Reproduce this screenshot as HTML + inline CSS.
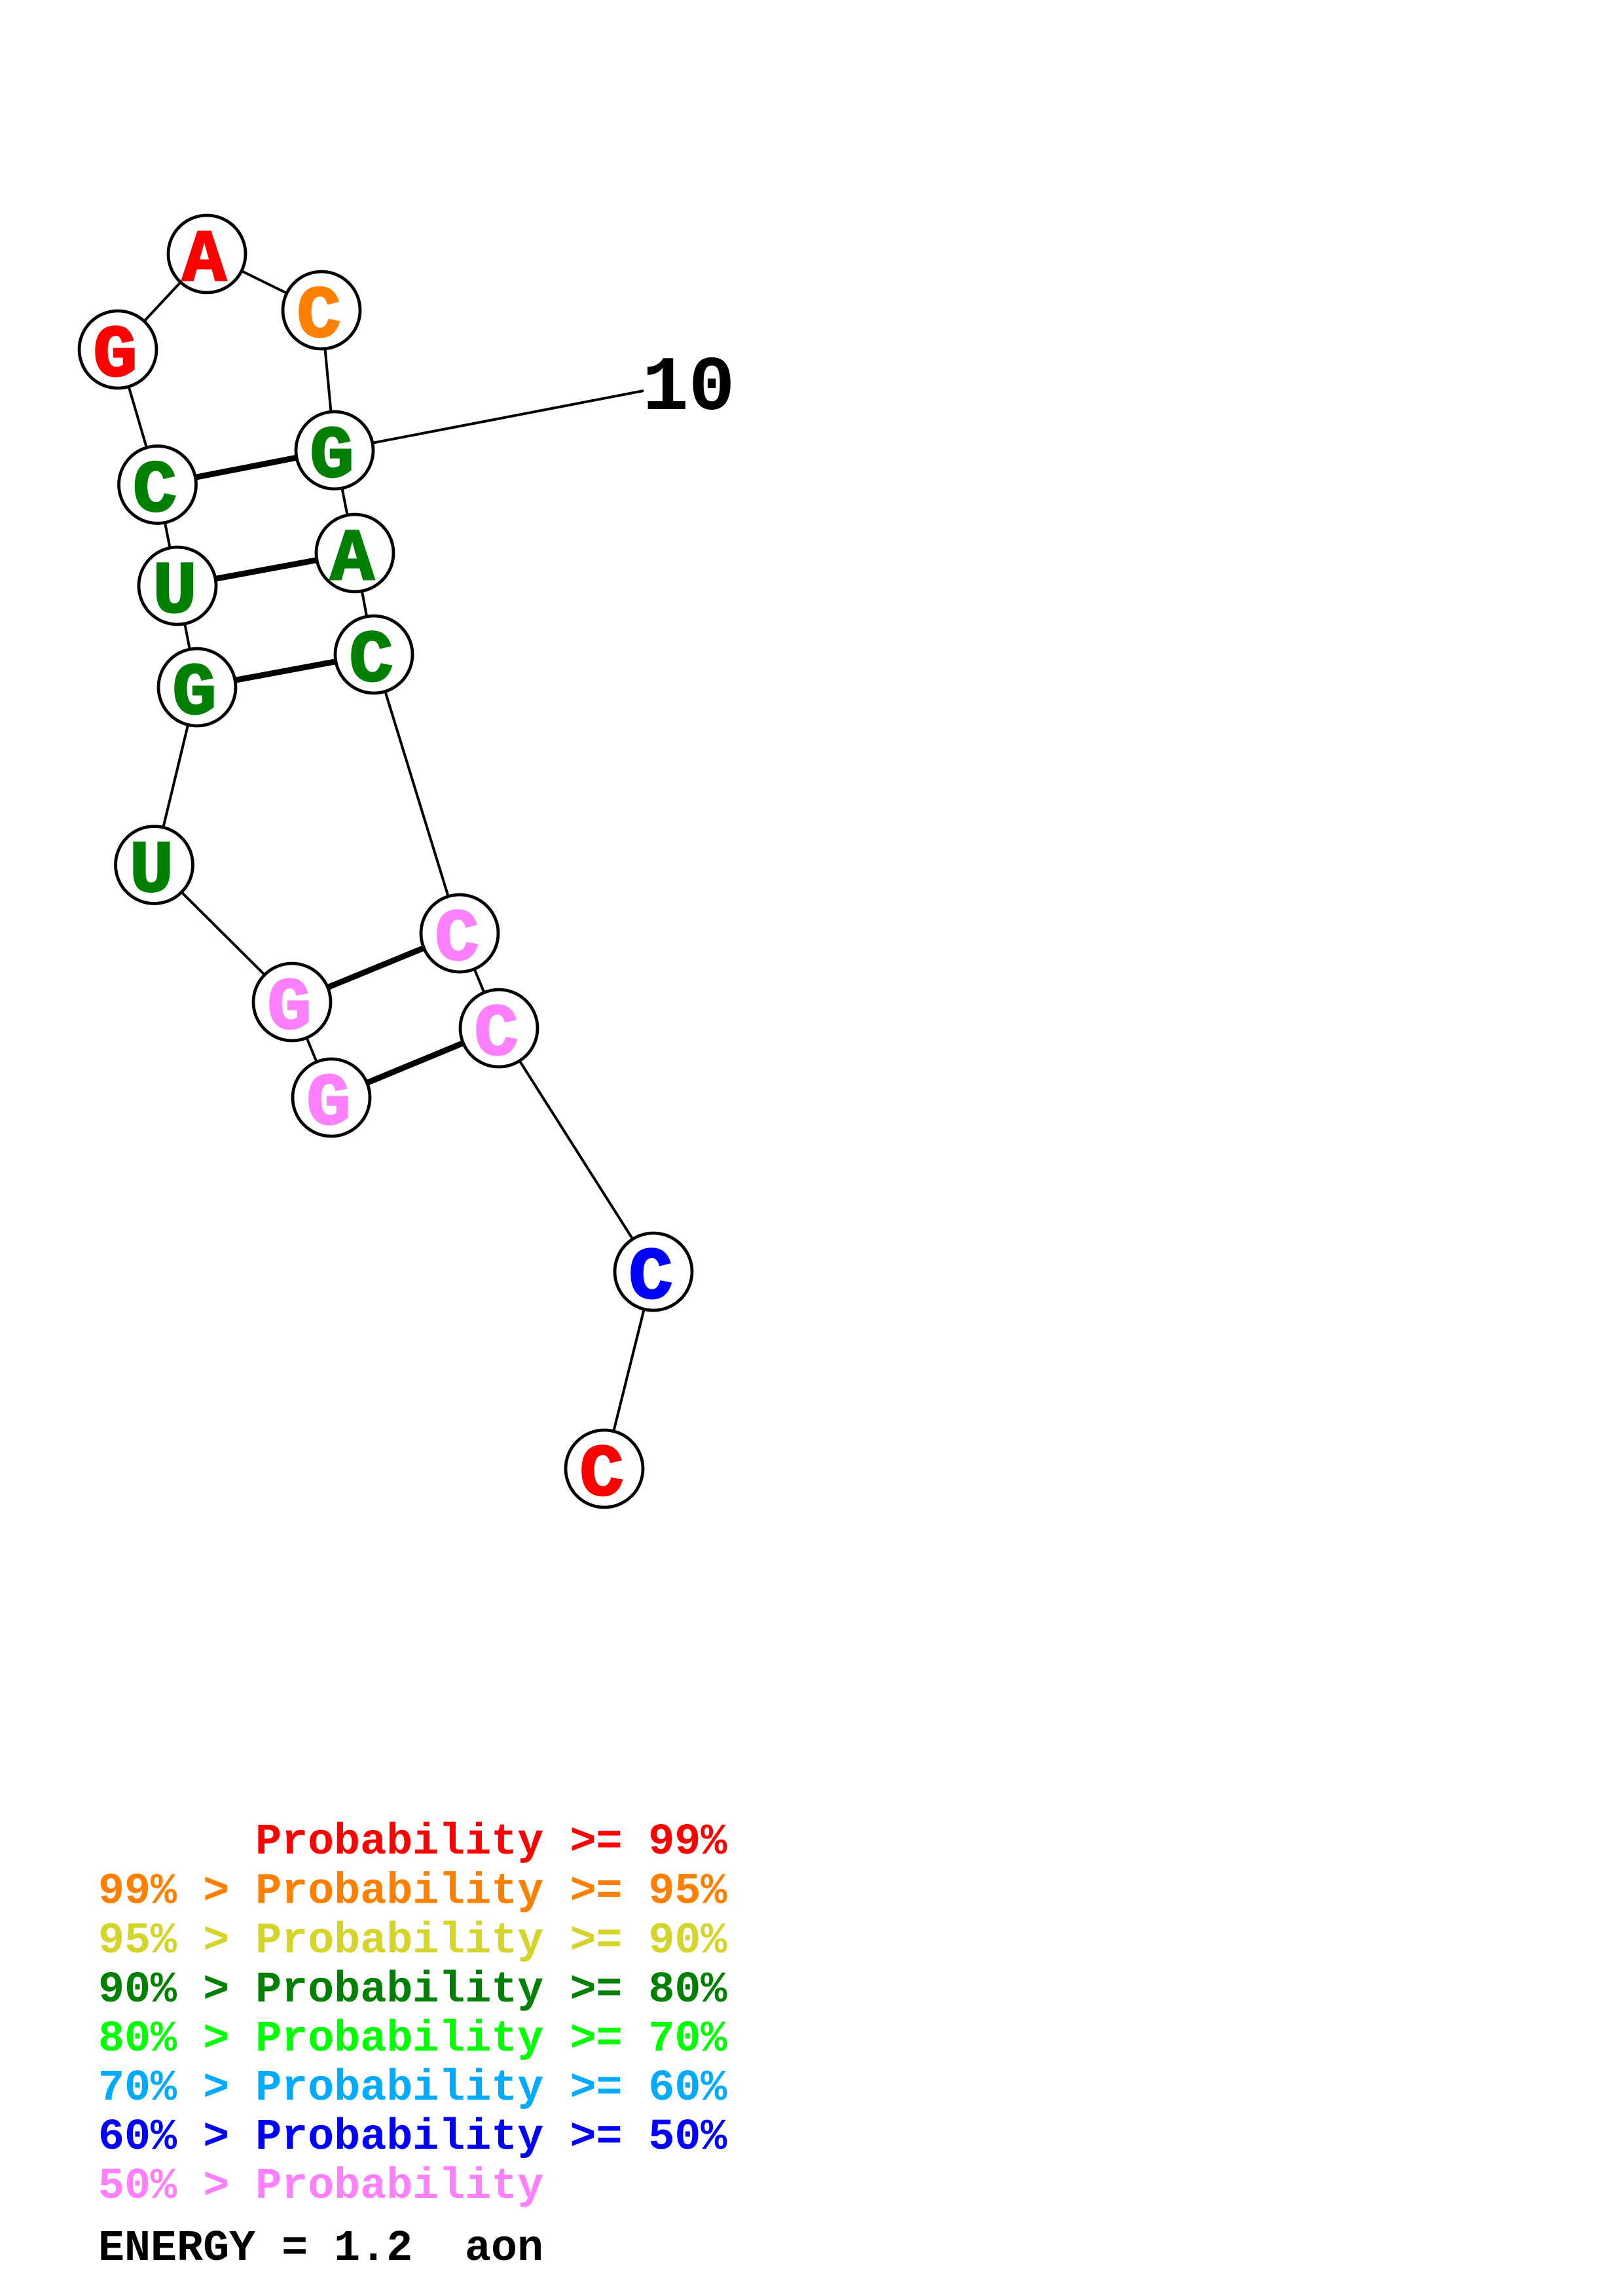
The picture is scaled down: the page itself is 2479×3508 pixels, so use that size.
<!DOCTYPE html>
<html>
<head>
<meta charset="utf-8">
<style>
html,body{margin:0;padding:0;background:#fff;}
svg{display:block;}
text{font-family:"Liberation Mono","DejaVu Sans Mono",monospace;font-weight:bold;}
</style>
</head>
<body>
<svg width="2479" height="3508" viewBox="0 0 2479 3508" xmlns="http://www.w3.org/2000/svg">
<rect width="2479" height="3508" fill="#fff"/>
<!-- label line -->
<line x1="511" y1="688" x2="983" y2="597" stroke="#000" stroke-width="4"/>
<!-- backbone -->
<polyline fill="none" stroke="#000" stroke-width="4" points="506,1677 446,1531 235.5,1321.5 301,1050 271,895 240.5,740.5 180,534 316,388 491,474 511,688 542,845 571,1000 702,1426 762,1571 998,1943 923,2244"/>
<!-- pairs -->
<g stroke="#000" stroke-width="9">
<line x1="240.5" y1="740.5" x2="511" y2="688"/>
<line x1="271" y1="895" x2="542" y2="845"/>
<line x1="301" y1="1050" x2="571" y2="1000"/>
<line x1="446" y1="1531" x2="702" y2="1426"/>
<line x1="506" y1="1677" x2="762" y2="1571"/>
</g>
<!-- nodes -->
<g fill="#fff" stroke="#000" stroke-width="4.8">
<circle cx="506" cy="1677" r="59"/>
<circle cx="446" cy="1531" r="59"/>
<circle cx="235.5" cy="1321.5" r="59"/>
<circle cx="301" cy="1050" r="59"/>
<circle cx="271" cy="895" r="59"/>
<circle cx="240.5" cy="740.5" r="59"/>
<circle cx="180" cy="534" r="59"/>
<circle cx="316" cy="388" r="59"/>
<circle cx="491" cy="474" r="59"/>
<circle cx="511" cy="688" r="59"/>
<circle cx="542" cy="845" r="59"/>
<circle cx="571" cy="1000" r="59"/>
<circle cx="702" cy="1426" r="59"/>
<circle cx="762" cy="1571" r="59"/>
<circle cx="998" cy="1943" r="59"/>
<circle cx="923" cy="2244" r="59"/>
</g>
<g font-size="112" text-anchor="middle" stroke-width="3">
<text x="502" y="1717" fill="#ff80ff" stroke="#ff80ff">G</text>
<text x="442" y="1571" fill="#ff80ff" stroke="#ff80ff">G</text>
<text x="231.5" y="1361.5" fill="#008000" stroke="#008000">U</text>
<text x="297" y="1090" fill="#008000" stroke="#008000">G</text>
<text x="267" y="935" fill="#008000" stroke="#008000">U</text>
<text x="236.5" y="780.5" fill="#008000" stroke="#008000">C</text>
<text x="176" y="574" fill="#ff0000" stroke="#ff0000">G</text>
<text x="312" y="428" fill="#ff0000" stroke="#ff0000">A</text>
<text x="487" y="514" fill="#ff8000" stroke="#ff8000">C</text>
<text x="507" y="728" fill="#008000" stroke="#008000">G</text>
<text x="538" y="885" fill="#008000" stroke="#008000">A</text>
<text x="567" y="1040" fill="#008000" stroke="#008000">C</text>
<text x="698" y="1466" fill="#ff80ff" stroke="#ff80ff">C</text>
<text x="758" y="1611" fill="#ff80ff" stroke="#ff80ff">C</text>
<text x="994" y="1983" fill="#0000ff" stroke="#0000ff">C</text>
<text x="919" y="2284" fill="#ff0000" stroke="#ff0000">C</text>
</g>
<text x="981" y="625" font-size="118" fill="#000">10</text>
<!-- legend -->
<g font-size="66.7">
<text x="390" y="2832" fill="#ff0000">Probability &gt;= 99%</text>
<text x="150" y="2907.5" fill="#ff8000">99% &gt; Probability &gt;= 95%</text>
<text x="150" y="2983" fill="#d4d42a">95% &gt; Probability &gt;= 90%</text>
<text x="150" y="3058" fill="#008000">90% &gt; Probability &gt;= 80%</text>
<text x="150" y="3133" fill="#00ff00">80% &gt; Probability &gt;= 70%</text>
<text x="150" y="3208" fill="#00aaff">70% &gt; Probability &gt;= 60%</text>
<text x="150" y="3283" fill="#0000ff">60% &gt; Probability &gt;= 50%</text>
<text x="150" y="3358" fill="#ff80ff">50% &gt; Probability</text>
<text x="150" y="3453" fill="#000">ENERGY = 1.2</text>
<text x="710" y="3453" fill="#000">aon</text>
</g>
</svg>
</body>
</html>
